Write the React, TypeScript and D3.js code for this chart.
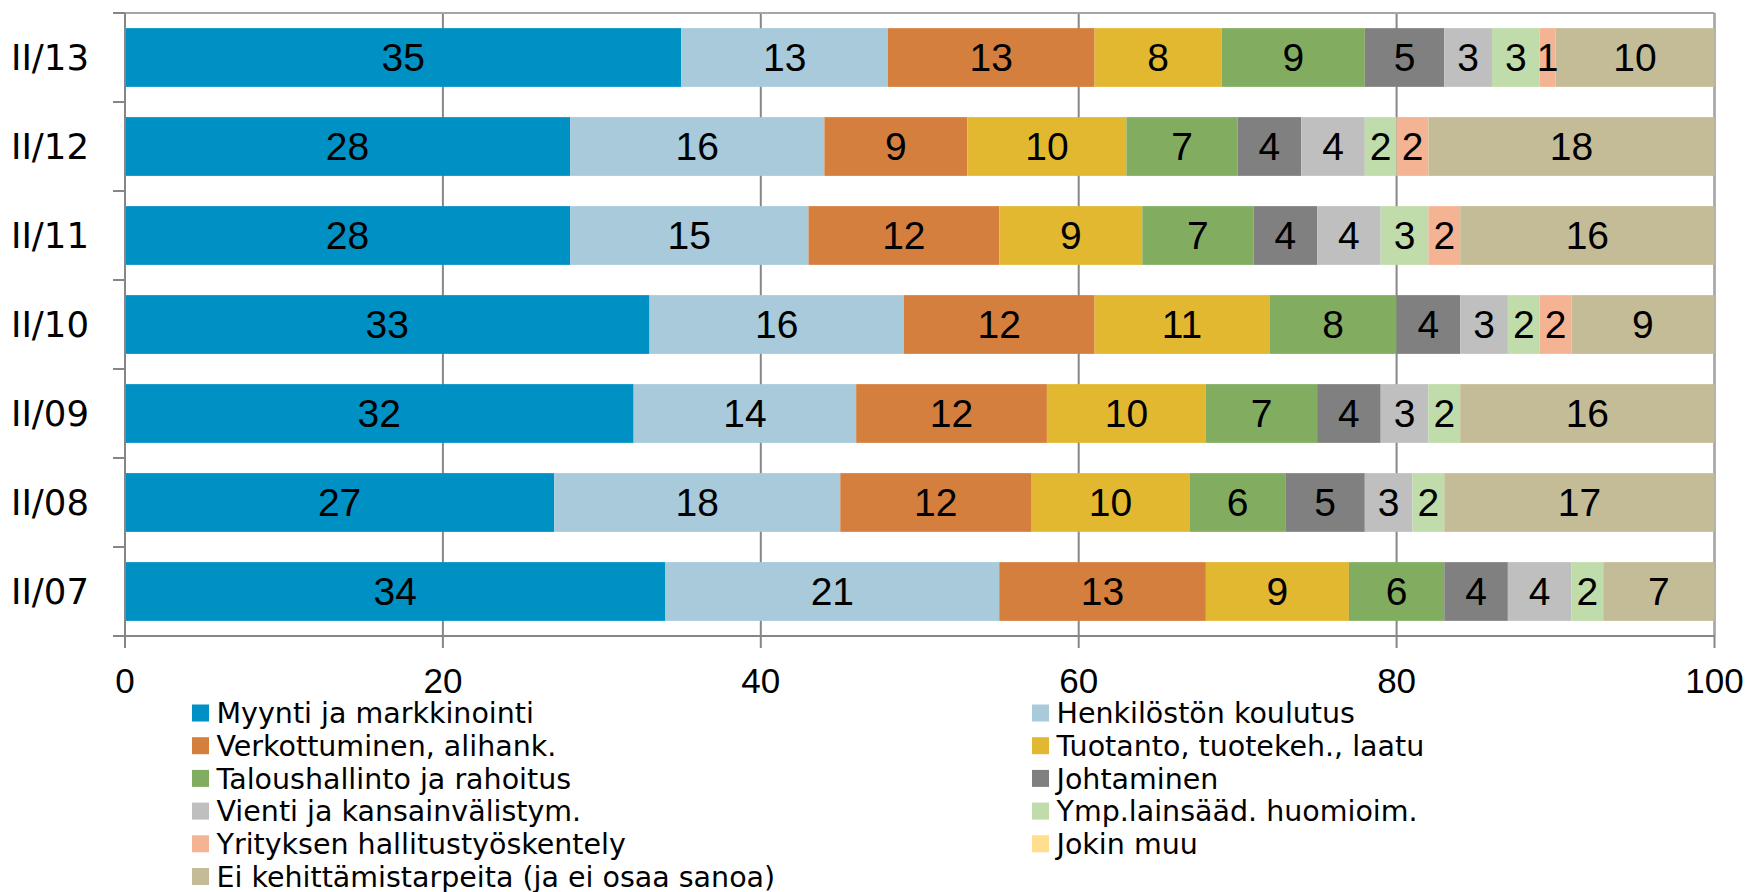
import React from "react";
import * as d3 from "d3";

const categories = ["II/13", "II/12", "II/11", "II/10", "II/09", "II/08", "II/07"];

const seriesNames = [
  "Myynti ja markkinointi",
  "Henkilöstön koulutus",
  "Verkottuminen, alihank.",
  "Tuotanto, tuotekeh., laatu",
  "Taloushallinto ja rahoitus",
  "Johtaminen",
  "Vienti ja kansainvälistym.",
  "Ymp.lainsääd. huomioim.",
  "Yrityksen hallitustyöskentely",
  "Jokin muu",
  "Ei kehittämistarpeita (ja ei osaa sanoa)",
];

const seriesColors = [
  "#0091C4",
  "#A8CADA",
  "#D57F3E",
  "#E2B831",
  "#82AD60",
  "#808080",
  "#BFBFBF",
  "#BFDCAA",
  "#F4B393",
  "#FFDE8F",
  "#C4BC97",
];

// values per category (rows follow categories), columns follow seriesNames
const myynti = [35, 28, 28, 33, 32, 27, 34];
const henkilosto = [13, 16, 15, 16, 14, 18, 21];
const verkottuminen = [13, 9, 12, 12, 12, 12, 13];
const tuotanto = [8, 10, 9, 11, 10, 10, 9];
const talous = [9, 7, 7, 8, 7, 6, 6];
const johtaminen = [5, 4, 4, 4, 4, 5, 4];
const vienti = [3, 4, 4, 3, 3, 3, 4];
const ymparisto = [3, 2, 3, 2, 2, 2, 2];
const hallitus = [1, 2, 2, 2, 0, 0, 0];
const jokinMuu = [0, 0, 0, 0, 0, 0, 0];
const eiTarpeita = [10, 18, 16, 9, 16, 17, 7];

const xTicks = [0, 20, 40, 60, 80, 100];

const allSeries = [
  myynti, henkilosto, verkottuminen, tuotanto, talous, johtaminen,
  vienti, ymparisto, hallitus, jokinMuu, eiTarpeita,
];

const W = 1748;
const H = 892;
const M = { left: 125, right: 1714.5, top: 13, bottom: 636 };

export default function App() {
  const x = d3.scaleLinear().domain([0, 100]).range([M.left, M.right]);
  const y = d3
    .scaleBand<string>()
    .domain(categories)
    .range([M.top, M.bottom])
    .paddingInner(0.34)
    .paddingOuter(0.17);

  const rows = categories.map((c, i) => {
    const obj: any = { cat: c };
    seriesNames.forEach((s, j) => (obj[s] = allSeries[j][i]));
    return obj;
  });
  const stacked = d3.stack<any>().keys(seriesNames)(rows);

  const step = y.step();
  const boundaries = d3.range(categories.length + 1).map((i) => M.top + i * step);

  const labelFont = "'Liberation Sans', Arial, sans-serif";
  const legendFont = "'DejaVu Sans', Verdana, sans-serif";

  const legendRow0 = 713;
  const legendStep = 32.7;
  const legendCols = [192, 1032];

  return (
    <svg
      width={W}
      height={H}
      style={{ position: "absolute", left: 0, top: 0, background: "#fff" }}
    >
      <rect x={0} y={0} width={W} height={H} fill="#fff" />
      {/* gridlines */}
      {xTicks.slice(1).map((t) => (
        <line key={"g" + t} x1={x(t)} x2={x(t)} y1={M.top} y2={M.bottom} stroke="#878787" strokeWidth={2} />
      ))}
      {/* top border */}
      <line x1={M.left} x2={M.right} y1={M.top} y2={M.top} stroke="#A6A6A6" strokeWidth={2} />
      <line x1={M.right} x2={M.right} y1={M.top} y2={M.bottom} stroke="#A6A6A6" strokeWidth={2} />

      {/* bars */}
      {stacked.map((layer, j) => (
        <g key={layer.key} fill={seriesColors[j]}>
          {layer.map((d, i) => {
            const v = d[1] - d[0];
            if (v <= 0) return null;
            return (
              <rect
                key={i}
                x={x(d[0])}
                y={y(categories[i])}
                width={x(d[1]) - x(d[0])}
                height={y.bandwidth()}
              />
            );
          })}
        </g>
      ))}
      {/* data labels */}
      {stacked.map((layer, j) => (
        <g key={"l" + layer.key}>
          {layer.map((d, i) => {
            const v = d[1] - d[0];
            if (v <= 0) return null;
            return (
              <text
                key={i}
                x={(x(d[0]) + x(d[1])) / 2}
                y={(y(categories[i]) as number) + y.bandwidth() / 2}
                dy="0.355em"
                textAnchor="middle"
                fontFamily={labelFont}
                fontSize={39}
                fill="#000"
              >
                {v}
              </text>
            );
          })}
        </g>
      ))}

      {/* axes */}
      <line x1={M.left} x2={M.left} y1={M.top} y2={M.bottom} stroke="#868686" strokeWidth={2} />
      <line x1={M.left - 12} x2={M.right} y1={M.bottom} y2={M.bottom} stroke="#868686" strokeWidth={2} />
      {boundaries.map((b, i) => (
        <line key={"yt" + i} x1={M.left - 12} x2={M.left} y1={b} y2={b} stroke="#868686" strokeWidth={2} />
      ))}
      {xTicks.map((t) => (
        <line key={"xt" + t} x1={x(t)} x2={x(t)} y1={M.bottom} y2={M.bottom + 12} stroke="#868686" strokeWidth={2} />
      ))}
      {xTicks.map((t) => (
        <text
          key={"xl" + t}
          x={x(t)}
          y={681}
          dy="0.355em"
          textAnchor="middle"
          fontFamily={labelFont}
          fontSize={35}
          fill="#000"
        >
          {t}
        </text>
      ))}
      {categories.map((c) => (
        <text
          key={"yl" + c}
          x={89}
          y={(y(c) as number) + y.bandwidth() / 2}
          dy="0.36em"
          textAnchor="end"
          fontFamily={legendFont}
          fontSize={35.5}
          fill="#000"
        >
          {c}
        </text>
      ))}

      {/* legend */}
      {seriesNames.map((s, j) => {
        const col = j % 2;
        const row = Math.floor(j / 2);
        const cy = legendRow0 + row * legendStep;
        const lx = legendCols[col];
        return (
          <g key={"lg" + s}>
            <rect x={lx} y={cy - 8.5} width={17} height={17} fill={seriesColors[j]} />
            <text
              x={lx + 24.5}
              y={cy}
              dy="0.36em"
              fontFamily={legendFont}
              fontSize={28.5}
              fill="#000"
            >
              {s}
            </text>
          </g>
        );
      })}
    </svg>
  );
}
